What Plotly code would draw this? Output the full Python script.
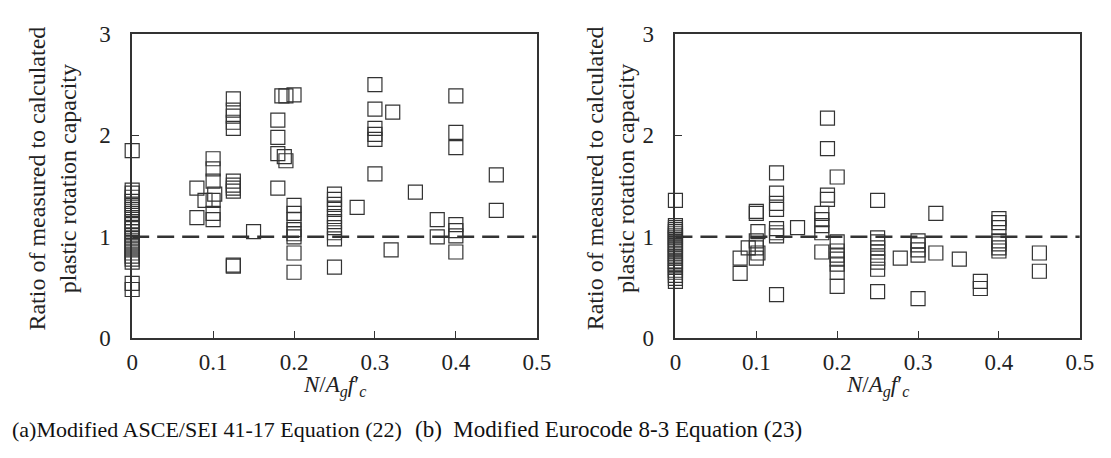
import plotly.graph_objects as go

# ---------------- data ----------------
# (a) Modified ASCE/SEI 41-17 Equation (22)
a_x = [0]*25 + [
    0.08, 0.08, 0.09,
    0.10, 0.10, 0.10, 0.102, 0.10, 0.10, 0.10,
    0.125, 0.125, 0.125, 0.125, 0.125, 0.125, 0.125, 0.125, 0.125, 0.125, 0.125,
    0.15,
    0.18, 0.18, 0.18, 0.18,
    0.185, 0.19, 0.188, 0.19,
    0.20, 0.20, 0.20, 0.20, 0.20, 0.20, 0.20, 0.20, 0.20,
    0.25, 0.25, 0.25, 0.25, 0.25, 0.25, 0.25, 0.25, 0.25, 0.25,
    0.278,
    0.30, 0.30, 0.30, 0.30, 0.30, 0.30,
    0.322, 0.32,
    0.35,
    0.377, 0.377,
    0.40, 0.40, 0.40, 0.40, 0.40, 0.40, 0.40,
    0.45, 0.45,
]
a_y = [1.85, 1.46, 1.43, 1.39, 1.35, 1.31, 1.27, 1.23, 1.19, 1.15, 1.12, 1.08, 1.05,
       1.02, 0.99, 0.96, 0.93, 0.90, 0.87, 0.84, 0.81, 0.78, 0.75, 0.54, 0.48] + [
    1.48, 1.19, 1.36,
    1.77, 1.67, 1.55, 1.42, 1.36, 1.23, 1.17,
    2.36, 2.25, 2.19, 2.13, 2.07, 1.55, 1.51, 1.48, 1.45, 0.72, 0.71,
    1.05,
    2.15, 1.98, 1.82, 1.48,
    2.39, 2.39, 1.79, 1.75,
    2.40, 1.31, 1.23, 1.17, 1.07, 1.03, 1.00, 0.84, 0.65,
    1.42, 1.37, 1.32, 1.27, 1.20, 1.15, 1.09, 1.04, 0.98, 0.70,
    1.29,
    2.50, 2.26, 2.07, 2.01, 1.96, 1.62,
    2.23, 0.87,
    1.44,
    1.17, 1.00,
    2.39, 2.03, 1.88, 1.12, 1.06, 1.01, 0.85,
    1.61, 1.26,
]

# (b) Modified Eurocode 8-3 Equation (23)
b_x = [0]*26 + [
    0.08, 0.08, 0.09,
    0.10, 0.10, 0.102, 0.10, 0.10, 0.102, 0.10,
    0.125, 0.125, 0.125, 0.125, 0.125, 0.125, 0.125, 0.125,
    0.151,
    0.181, 0.181, 0.181, 0.181, 0.181,
    0.188, 0.188, 0.188, 0.188,
    0.20, 0.20, 0.20, 0.20, 0.20, 0.20, 0.20, 0.20,
    0.25, 0.25, 0.25, 0.25, 0.25, 0.25, 0.25, 0.25, 0.25,
    0.278,
    0.30, 0.30, 0.30, 0.30, 0.30,
    0.322, 0.322,
    0.351,
    0.377, 0.377,
    0.40, 0.40, 0.40, 0.40, 0.40, 0.40, 0.40,
    0.45, 0.45,
]
b_y = [1.36, 1.11, 1.09, 1.07, 1.05, 1.03, 1.01, 0.99, 0.97, 0.94, 0.92, 0.90, 0.88,
       0.86, 0.83, 0.81, 0.79, 0.76, 0.74, 0.72, 0.70, 0.67, 0.65, 0.62, 0.59, 0.56] + [
    0.79, 0.64, 0.89,
    1.25, 1.23, 1.05, 0.96, 0.89, 0.84, 0.79,
    1.63, 1.43, 1.33, 1.27, 1.08, 1.04, 1.01, 0.43,
    1.09,
    1.23, 1.17, 1.11, 1.04, 0.85,
    2.17, 1.87, 1.41, 1.37,
    1.59, 0.95, 0.86, 0.82, 0.78, 0.73, 0.65, 0.51,
    1.36, 0.99, 0.95, 0.89, 0.85, 0.79, 0.75, 0.68, 0.46,
    0.79,
    0.96, 0.92, 0.87, 0.82, 0.39,
    1.23, 0.84,
    0.78,
    0.56, 0.49,
    1.18, 1.14, 1.09, 0.96, 0.93, 0.89, 0.86,
    0.84, 0.66,
]

x_ticks = [0, 0.1, 0.2, 0.3, 0.4, 0.5]
x_tick_text = ["0", "0.1", "0.2", "0.3", "0.4", "0.5"]
y_ticks = [0, 1, 2, 3]
y_tick_text = ["0", "1", "2", "3"]
ref_x = [0, 0.5]
ref_y = [1, 1]

captions = ["(a)Modified ASCE/SEI 41-17 Equation (22)",
            "(b)  Modified Eurocode 8-3 Equation (23)"]
y_title = "Ratio of measured to calculated<br>plastic rotation capacity"
x_title = "<i>N</i>/<i>A</i><sub><i>g</i></sub><i>f</i>′<sub><i>c</i></sub>"

# ---------------- figure ----------------
FONT = "Liberation Serif"
W, H = 1111, 458
ink = "#333333"

fig = go.Figure()

for i, (xs, ys) in enumerate([(a_x, a_y), (b_x, b_y)]):
    xa = "x" if i == 0 else "x2"
    ya = "y" if i == 0 else "y2"
    fig.add_trace(go.Scatter(
        x=ref_x, y=ref_y, mode="lines", xaxis=xa, yaxis=ya,
        line=dict(color=ink, width=2.5, dash="17px,8px"),
        showlegend=False, hoverinfo="skip"))
    fig.add_trace(go.Scatter(
        x=xs, y=ys, mode="markers", xaxis=xa, yaxis=ya, cliponaxis=False,
        marker=dict(symbol="square-open", size=14, color=ink,
                    line=dict(color=ink, width=1.2)),
        showlegend=False))

dom_a = [128.5 / W, 540.5 / W]
dom_b = [681.7 / W, 1093.5 / W]
ydom = [1 - 345 / H, 1 - 23.3 / H]

axis_common = dict(showline=True, linecolor=ink, linewidth=1.5, mirror=True,
                   ticks="inside", ticklen=7, tickcolor=ink, tickwidth=1.2,
                   showgrid=False, zeroline=False,
                   tickfont=dict(family=FONT, size=23, color="#222222"))

fig.update_layout(
    width=W, height=H,
    margin=dict(l=0, r=0, t=0, b=0),
    paper_bgcolor="white", plot_bgcolor="white",
    xaxis=dict(domain=dom_a, range=[0, 0.5], tickvals=x_ticks, ticktext=x_tick_text,
               anchor="y", ticklabelstandoff=2, **axis_common),
    yaxis=dict(domain=ydom, range=[0, 3], tickvals=y_ticks, ticktext=y_tick_text,
               anchor="x", ticklabelstandoff=15, **axis_common),
    xaxis2=dict(domain=dom_b, range=[0, 0.5], tickvals=x_ticks, ticktext=x_tick_text,
                anchor="y2", ticklabelstandoff=2, **axis_common),
    yaxis2=dict(domain=ydom, range=[0, 3], tickvals=y_ticks, ticktext=y_tick_text,
                anchor="x2", ticklabelstandoff=15, **axis_common),
)

anns = []
for dom, cx_title in [(dom_a, 47 / W), (dom_b, 615 / W)]:
    anns.append(dict(x=cx_title, y=1 - 176 / H, xref="paper", yref="paper",
                     text=y_title, textangle=-90, showarrow=False,
                     xanchor="center", yanchor="middle",
                     font=dict(family=FONT, size=24, color="#222222")))
    anns.append(dict(x=(dom[0] + dom[1]) / 2, y=1 - 396 / H, xref="paper", yref="paper",
                     text=x_title, showarrow=False, xanchor="center", yanchor="middle",
                     font=dict(family=FONT, size=23, color="#222222")))
anns.append(dict(x=4 / W, y=1 - 442 / H, xref="paper", yref="paper", text=captions[0],
                 showarrow=False, xanchor="left", yanchor="middle",
                 font=dict(family=FONT, size=22, color="#111111")))
anns.append(dict(x=414 / W, y=1 - 442 / H, xref="paper", yref="paper", text=captions[1],
                 showarrow=False, xanchor="left", yanchor="middle",
                 font=dict(family=FONT, size=23, color="#111111")))
fig.update_layout(annotations=anns)

fig.write_html("out.html")
